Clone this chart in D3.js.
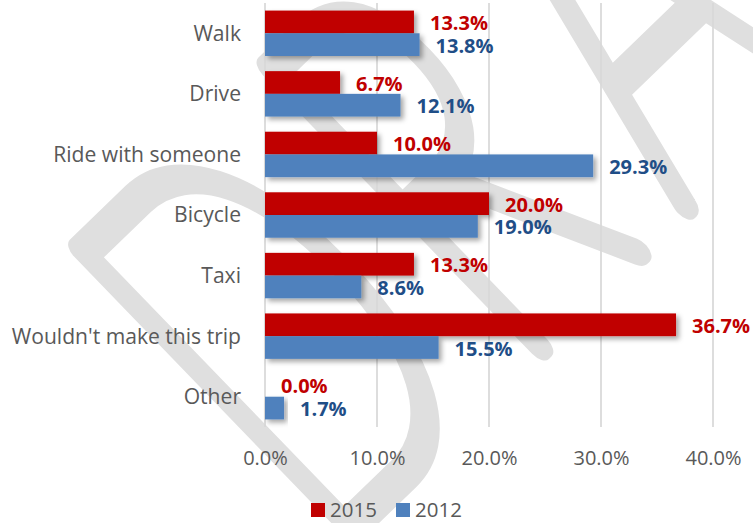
<!DOCTYPE html>
<html>
<head>
<meta charset="utf-8">
<script src="https://cdn.jsdelivr.net/npm/d3@7/dist/d3.min.js"></script>
<style>
  html, body { margin: 0; padding: 0; background: #fff; }
  svg { display: block; }
  text { font-family: "Open Sans", "Noto Sans", sans-serif; }
</style>
</head>
<body>
<svg id="chart" width="753" height="523"></svg>
<script>
// Travel mode alternatives, share of respondents (%)
const categories = ["Walk", "Drive", "Ride with someone", "Bicycle", "Taxi", "Wouldn't make this trip", "Other"];
const values2015 = [13.3, 6.7, 10.0, 20.0, 13.3, 36.7, 0.0];
const values2012 = [13.8, 12.1, 29.3, 19.0, 8.6, 15.5, 1.7];
const seriesNames = ["2015", "2012"];
const xTicks = [0, 10, 20, 30, 40];

const colors = { "2015": "#C00000", "2012": "#4F81BD" };
const labelColors = { "2015": "#C00000", "2012": "#1F4E87" };

const svg = d3.select("#chart");

// Background "DRAFT" watermark: tall, condensed letters on a diagonal
const watermark = "DRAFT";
const letterShift = [0, 22, 62, 0, 0];
const wm = svg.append("g")
  .attr("transform", "translate(545,358) rotate(-44)")
  .append("g")
  .attr("transform", "scale(0.56,1)");
wm.append("text")
  .attr("x", -528)
  .attr("y", -12)
  .attr("dx", letterShift.join(" "))
  .attr("font-weight", 100)
  .attr("font-size", 554)
  .attr("letter-spacing", 25)
  .attr("fill", "#dfdfdf")
  .attr("stroke", "#dfdfdf")
  .attr("stroke-width", 25)
  .attr("stroke-linejoin", "round")
  .attr("vector-effect", "non-scaling-stroke")
  .style("font-family", "Lato, 'DejaVu Sans', sans-serif")
  .text(watermark);

// Scales
const x = d3.scaleLinear().domain([0, 40]).range([265, 713]);
const y = d3.scaleBand().domain(categories).range([3, 427]).paddingInner(0.25).paddingOuter(0.125);
const ySub = d3.scaleBand().domain(seriesNames).range([0, y.bandwidth()]);

// Gridlines
svg.append("g")
  .selectAll("line")
  .data(xTicks)
  .join("line")
  .attr("x1", d => x(d)).attr("x2", d => x(d))
  .attr("y1", 3).attr("y2", 427)
  .attr("stroke", "#d9d9d9")
  .attr("stroke-width", 1.75);

// X axis tick labels
const xAxis = svg.append("g")
  .attr("transform", "translate(0,427)")
  .call(d3.axisBottom(x).tickValues(xTicks).tickSize(0).tickPadding(0)
    .tickFormat(d => d3.format(".1f")(d) + "%"));
xAxis.select(".domain").remove();
xAxis.selectAll("text")
  .attr("y", 31)
  .attr("dy", "0.35em")
  .attr("fill", "#595959")
  .style("font-family", "'Open Sans', sans-serif")
  .style("font-size", "20px");

// Category labels
const yAxis = svg.append("g")
  .attr("transform", "translate(265,0)")
  .call(d3.axisLeft(y).tickSize(0).tickPadding(24));
yAxis.select(".domain").remove();
yAxis.selectAll("text")
  .attr("fill", "#595959")
  .attr("dy", "0.35em")
  .style("font-family", "'Open Sans', sans-serif")
  .style("font-size", "21.1px");

// Bar shadow
const defs = svg.append("defs");
const f = defs.append("filter").attr("id", "shadow")
  .attr("x", "-10%").attr("y", "-30%").attr("width", "130%").attr("height", "180%");
f.append("feDropShadow")
  .attr("dx", 3).attr("dy", 3).attr("stdDeviation", 2.5)
  .attr("flood-color", "#000").attr("flood-opacity", 0.35);

const rows = categories.map((c, i) => ({ cat: c, "2015": values2015[i], "2012": values2012[i] }));
const flat = rows.flatMap(r => seriesNames.map(s => ({ cat: r.cat, series: s, value: r[s] })));

// Bars
svg.append("g")
  .selectAll("rect")
  .data(flat.filter(d => d.value > 0))
  .join("rect")
  .attr("x", x(0))
  .attr("y", d => y(d.cat) + ySub(d.series))
  .attr("width", d => x(d.value) - x(0))
  .attr("height", ySub.bandwidth())
  .attr("fill", d => colors[d.series])
  .attr("filter", "url(#shadow)");

// Value labels
svg.append("g")
  .selectAll("text")
  .data(flat)
  .join("text")
  .attr("x", d => x(d.value) + 16)
  .attr("y", d => y(d.cat) + ySub(d.series) + ySub.bandwidth() / 2 + 1)
  .attr("dy", "0.35em")
  .attr("fill", d => labelColors[d.series])
  .style("font-family", "'Open Sans', sans-serif")
  .style("font-weight", 700)
  .style("font-size", "20px")
  .text(d => d3.format(".1f")(d.value) + "%");

// Legend
const legendX = { "2015": 311, "2012": 396 };
const lg = svg.append("g");
seriesNames.forEach(s => {
  lg.append("rect")
    .attr("x", legendX[s]).attr("y", 503)
    .attr("width", 14).attr("height", 14)
    .attr("fill", colors[s]);
  lg.append("text")
    .attr("x", legendX[s] + 19).attr("y", 510)
    .attr("dy", "0.35em")
    .attr("fill", "#595959")
    .style("font-family", "'Open Sans', sans-serif")
    .style("font-size", "20.5px")
    .text(s);
});
</script>
</body>
</html>
